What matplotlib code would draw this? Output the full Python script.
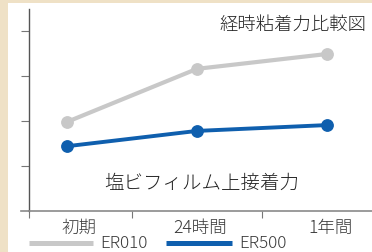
import matplotlib
matplotlib.use("Agg")
import matplotlib.pyplot as plt
from matplotlib.patches import Rectangle
from matplotlib.lines import Line2D
import matplotlib.transforms as mtransforms

plt.rcParams['font.family'] = ['Noto Sans CJK JP', 'DejaVu Sans']

categories = ['初期', '24時間', '1年間']
er010 = [1.98, 3.16, 3.49]
er500 = [1.44, 1.78, 1.91]
series_names = ['ER010', 'ER500']
title = '経時粘着力比較図'
subtitle = '塩ビフィルム上接着力'

W, H = 372, 253
fig = plt.figure(figsize=(W/100, H/100), dpi=100)
fig.patch.set_facecolor('#efe1c6')
fig.patches.append(Rectangle((8/W, 0), 1 - 8/W, 1 - 4/H, transform=fig.transFigure,
                             facecolor='white', edgecolor='none', zorder=-10))

ax = fig.add_axes([29/W, (H-212)/H, 1 - 29/W, (212-10)/H])
ax.set_facecolor('none')
x = list(range(len(categories)))
gray = '#c8c8c8'
blue = '#0f5fae'
ax.plot(x, er010, color=gray, lw=3.0, marker='o', ms=8.2, solid_capstyle='round', zorder=3)
ax.plot(x, er500, color=blue, lw=2.8, marker='o', ms=8.2, zorder=4)

ax.set_xlim(-0.292, 2.346)
ax.set_ylim(0, 4.49)
for s in ['top', 'right']:
    ax.spines[s].set_visible(False)
ax.spines['left'].set_color('#555555')
ax.spines['left'].set_linewidth(1.0)
ax.spines['bottom'].set_color('#8a8a8a')
ax.spines['bottom'].set_linewidth(1.2)
# extend x-axis a bit to the left
ax.add_line(Line2D([-8/343, 0], [0, 0], transform=ax.transAxes, color='#8a8a8a',
                   lw=1.2, clip_on=False))

txtc = '#3a3a3a'
ax.set_yticks([1, 2, 3, 4])
ax.set_yticklabels([])
ax.tick_params(axis='y', direction='out', length=6, width=0.8, color='#777777')
ax.set_xticks(x)
ax.set_xticklabels(categories, fontsize=12.6, color=txtc, fontweight='light')
ax.tick_params(axis='x', which='major', length=0, pad=5)
offs = [12, 3, 4]
for lbl, o in zip(ax.get_xticklabels(), offs):
    lbl.set_transform(lbl.get_transform() + mtransforms.ScaledTranslation(o/100, 0, fig.dpi_scale_trans))
ax.set_xticks([-0.292, 0.5, 1.5], minor=True)
ax.tick_params(axis='x', which='minor', direction='out', length=5, width=0.8, color='#777777')

ax.text(0.985, 0.925, title, transform=ax.transAxes, ha='right', va='center',
        fontsize=13.2, color='#222222', fontweight='light')
ax.text(1.04, (212-183)/45, subtitle, ha='center', va='center', fontsize=14,
        color='#222222', fontweight='light')

# legend
ly = (H-244)/H
fig.add_artist(Line2D([29/W, 93/W], [ly]*2, color=gray, lw=3.6,
                      solid_capstyle='butt', transform=fig.transFigure))
fig.text(100/W, ly, series_names[0], ha='left', va='center', fontsize=12.3, color=txtc,
         fontweight='light')
fig.add_artist(Line2D([166/W, 232/W], [ly]*2, color=blue, lw=3.6,
                      solid_capstyle='butt', transform=fig.transFigure))
fig.text(239/W, ly, series_names[1], ha='left', va='center', fontsize=12.3, color=txtc,
         fontweight='light')

fig.savefig('out.png', dpi=100, facecolor=fig.get_facecolor())
